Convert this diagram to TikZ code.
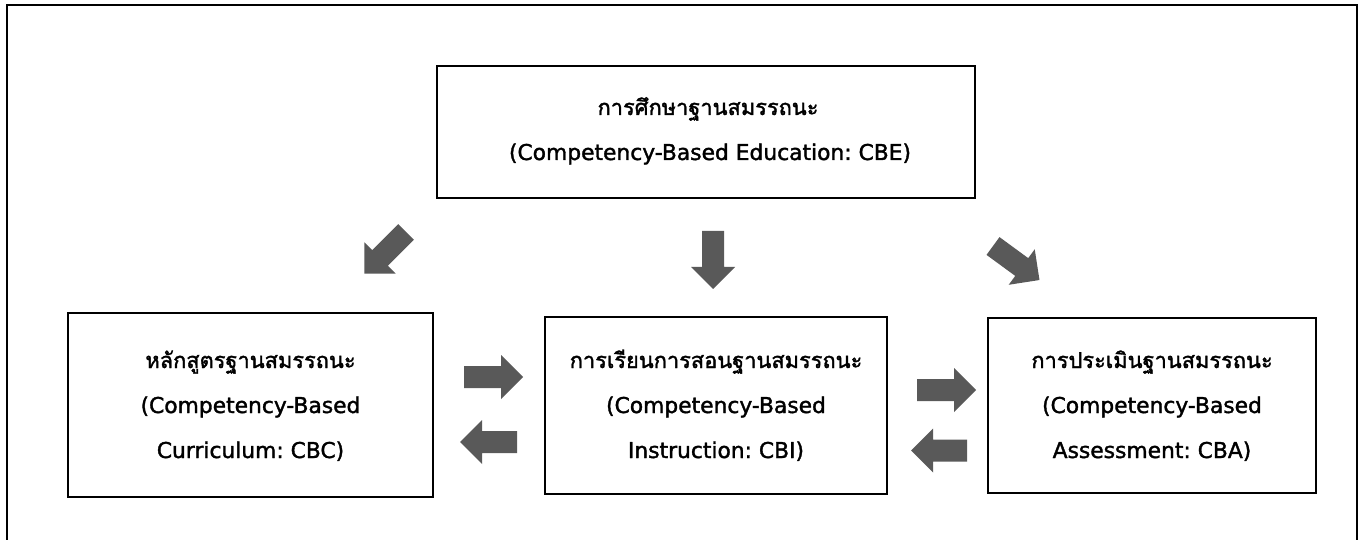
\documentclass[tikz,border=0pt]{standalone}
\usepackage{fontspec}
\setmainfont{DejaVu Sans}
\newfontfamily\latfont[FakeBold=1.6]{DejaVu Sans}
\newfontfamily\thaifont[Script=Thai,FakeBold=1.6]{Loma}
\frenchspacing
\definecolor{agray}{RGB}{89,89,89}
\tikzset{
  box/.style={draw=black, line width=2.3pt, inner sep=0pt, outer sep=0pt},
  th/.style={anchor=base, inner sep=0pt, font=\thaifont\fontsize{21.8}{26}\selectfont},
  en/.style={anchor=base, inner sep=0pt, font=\latfont\fontsize{21.8}{26}\selectfont\frenchspacing},
  blockarr/.pic={\fill[agray] (0,-11) -- ({#1-22},-11) -- ({#1-22},-22) -- (#1,0) -- ({#1-22},22) -- ({#1-22},11) -- (0,11) -- cycle;}
}
\begin{document}
\begin{tikzpicture}[x=1pt,y=-1pt]
\useasboundingbox (0,0) rectangle (1366,540);
\fill[white] (0,0) rectangle (1366,540);
% outer frame (bottom edge lies below the page)
\draw[line width=2.5pt] (7,548) -- (7,5) -- (1357,5) -- (1357,548);

% boxes
\node[box, minimum width=538pt, minimum height=132pt] (cbe) at (706,132) {};
\node[box, minimum width=365pt, minimum height=184pt] (cbc) at (250.5,405) {};
\node[box, minimum width=342pt, minimum height=177pt] (cbi) at (716,405.5) {};
\node[box, minimum width=328pt, minimum height=175pt] (cba) at (1152,405.5) {};

% texts
\node[th] (cbe1) at (708,115) {การศึกษาฐานสมรรถนะ};
\node[en] (cbe2) at (710,160) {(Competency-Based Education: CBE)};

\node[th] (cbc1) at (250.5,368) {หลักสูตรฐานสมรรถนะ};
\node[en] (cbc2) at (250.5,413) {(Competency-Based};
\node[en] (cbc3) at (250.5,458) {Curriculum: CBC)};

\node[th] (cbi1) at (716,368) {การเรียนการสอนฐานสมรรถนะ};
\node[en] (cbi2) at (716,413) {(Competency-Based};
\node[en] (cbi3) at (716,458) {Instruction: CBI)};

\node[th] (cba1) at (1152,368) {การประเมินฐานสมรรถนะ};
\node[en] (cba2) at (1152,413) {(Competency-Based};
\node[en] (cba3) at (1152,458) {Assessment: CBA)};

% block arrows
\pic[rotate=225] (a1) at (406,232) {blockarr=58.7};
\pic[rotate=-90] (a2) at (713,231) {blockarr=58};
\pic[rotate=-36.2] (a3) at (993,246) {blockarr=57.6};
\pic (a4) at (464,377) {blockarr=59};
\pic[rotate=180] (a5) at (517,442) {blockarr=57};
\pic (a6) at (917,390) {blockarr=59};
\pic[rotate=180] (a7) at (967,450.5) {blockarr=56};
\end{tikzpicture}
\end{document}
